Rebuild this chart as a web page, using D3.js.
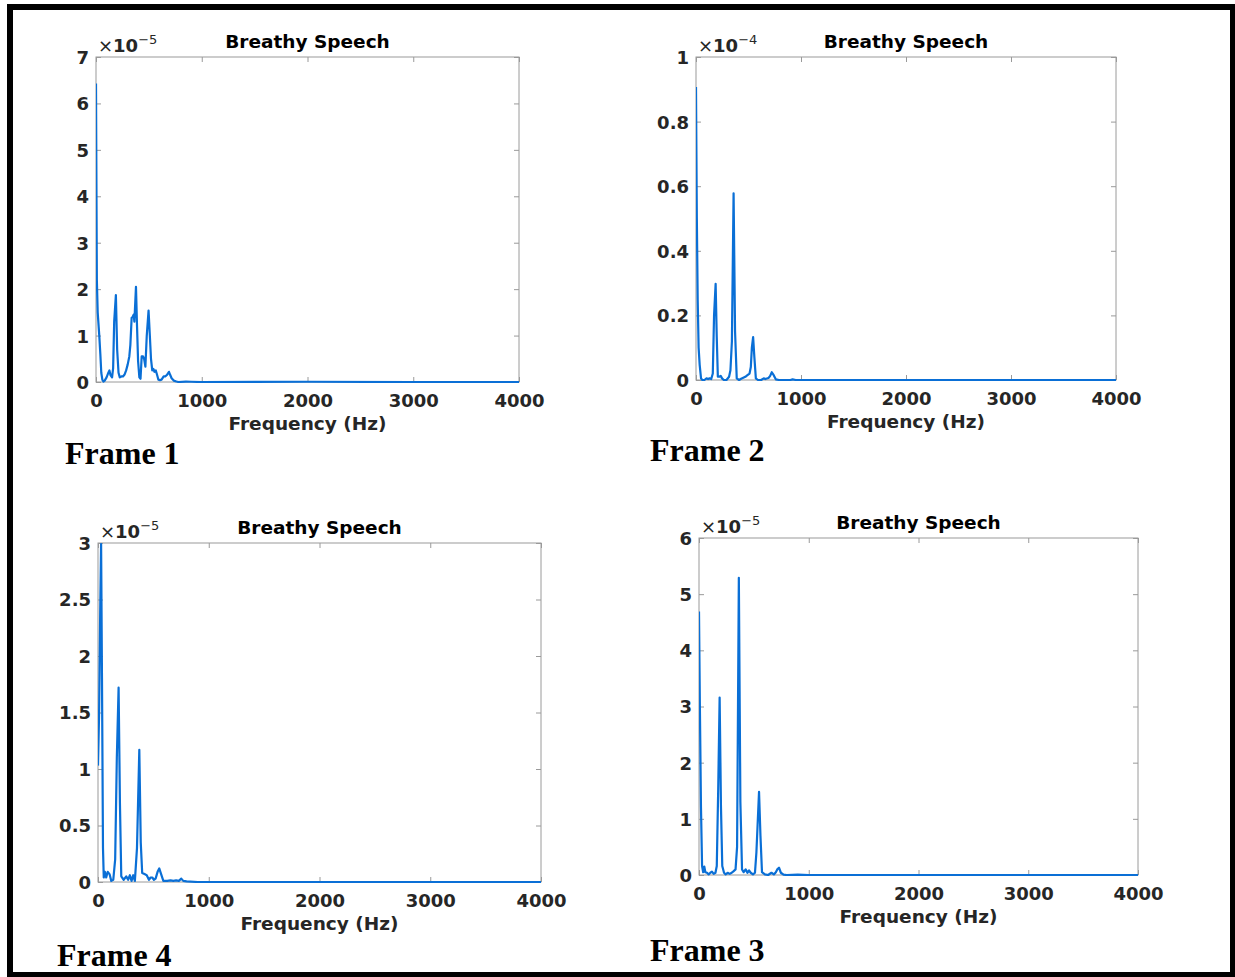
<!DOCTYPE html>
<html>
<head>
<meta charset="utf-8">
<script src="https://cdn.jsdelivr.net/npm/d3@7"></script>
<style>
  html, body { margin: 0; padding: 0; background: #fff; }
  svg { display: block; }
</style>
</head>
<body>
<svg id="fig" width="1235" height="977"></svg>
<script>
// ---- Spectrum data (frequency in Hz, magnitude in units of the axis exponent) ----
const frame1Freq = [0, 8, 16, 31, 41, 50, 60, 70, 82, 100, 117, 127, 137, 152, 162, 172, 188, 200, 213, 225, 240, 255, 270, 285, 300, 315, 325, 337, 347, 356, 363, 378, 388, 398, 410, 421, 432, 445, 455, 467, 480, 497, 508, 520, 532, 543, 553, 565, 578, 590, 605, 620, 640, 655, 670, 690, 702, 715, 735, 760, 780, 850, 900, 1000, 2000, 3000, 4000];
const frame1Mag  = [6.43, 2.2, 1.5, 1.0, 0.6, 0.2, 0.05, 0.01, 0.03, 0.1, 0.2, 0.25, 0.15, 0.1, 0.3, 1.3, 1.87, 0.7, 0.2, 0.1, 0.12, 0.12, 0.16, 0.25, 0.38, 0.55, 0.8, 1.38, 1.4, 1.45, 1.3, 2.05, 1.2, 0.45, 0.1, 0.07, 0.55, 0.55, 0.5, 0.33, 1.0, 1.54, 1.05, 0.5, 0.25, 0.28, 0.22, 0.25, 0.15, 0.05, 0.04, 0.05, 0.12, 0.12, 0.15, 0.22, 0.15, 0.08, 0.03, 0.01, 0, 0.01, 0.005, 0, 0.005, 0, 0];

const frame2Freq = [0, 8, 16, 25, 35, 48, 60, 80, 100, 115, 130, 145, 160, 172, 187, 197, 208, 222, 235, 248, 265, 290, 315, 328, 342, 358, 372, 388, 410, 430, 450, 470, 490, 510, 522, 532, 544, 556, 570, 590, 620, 645, 660, 690, 705, 722, 740, 760, 790, 900, 920, 950, 1000, 2000, 3000, 4000];
const frame2Mag  = [0.907, 0.5, 0.25, 0.1, 0.047, 0.005, 0, 0, 0.005, 0.003, 0.005, 0.003, 0.02, 0.2, 0.298, 0.14, 0.01, 0.01, 0.013, 0.005, 0, 0, 0.01, 0.03, 0.12, 0.578, 0.15, 0.005, 0, 0.004, 0.007, 0.01, 0.015, 0.02, 0.04, 0.1, 0.133, 0.07, 0.005, 0, 0, 0.005, 0.003, 0.006, 0.012, 0.024, 0.015, 0.002, 0, 0, 0.002, 0, 0, 0, 0, 0];

const frame4Freq = [0, 10, 20, 28, 36, 45, 52, 62, 74, 88, 104, 120, 138, 155, 170, 186, 198, 210, 232, 255, 272, 288, 303, 318, 333, 352, 373, 386, 399, 420, 440, 460, 475, 490, 505, 520, 538, 553, 570, 590, 625, 655, 680, 706, 730, 752, 770, 800, 900, 1000, 2000, 3000, 4000];
const frame4Mag  = [1.03, 1.5, 2.4, 2.99, 1.8, 0.3, 0.04, 0.09, 0.04, 0.09, 0.07, 0.01, 0.02, 0.2, 1.1, 1.72, 0.7, 0.05, 0.02, 0.05, 0.02, 0.06, 0.01, 0.06, 0.01, 0.3, 1.17, 0.35, 0.08, 0.07, 0.06, 0.02, 0.04, 0.04, 0.02, 0.03, 0.09, 0.12, 0.07, 0.01, 0.01, 0.015, 0.01, 0.015, 0.01, 0.03, 0.01, 0.005, 0, 0, 0, 0, 0];

const frame3Freq = [0, 8, 18, 28, 38, 48, 58, 73, 88, 103, 118, 134, 150, 162, 175, 188, 200, 212, 228, 243, 261, 280, 298, 316, 333, 347, 363, 377, 392, 407, 425, 441, 456, 471, 492, 510, 523, 547, 560, 574, 600, 630, 660, 682, 700, 713, 729, 746, 770, 800, 900, 1000, 2000, 3000, 4000];
const frame3Mag  = [4.69, 3.0, 1.2, 0.16, 0.05, 0.15, 0.05, 0.04, 0.01, 0.04, 0.06, 0.02, 0.04, 0.16, 1.53, 3.16, 1.23, 0.16, 0.04, 0.01, 0.04, 0.02, 0.04, 0.07, 0.1, 0.5, 5.29, 1.3, 0.1, 0.05, 0.1, 0.04, 0.08, 0.04, 0.01, 0.04, 0.4, 1.48, 0.7, 0.05, 0.01, 0, 0.04, 0.01, 0.05, 0.1, 0.13, 0.04, 0.005, 0, 0.005, 0, 0, 0, 0];

// ---- Axis tick values and labels ----
const xTicks = [0, 1000, 2000, 3000, 4000];
const yTicks1 = [0, 1, 2, 3, 4, 5, 6, 7];
const yTicks2 = [0, 0.2, 0.4, 0.6, 0.8, 1];
const yTicks4 = [0, 0.5, 1, 1.5, 2, 2.5, 3];
const yTicks3 = [0, 1, 2, 3, 4, 5, 6];
const titleText = "Breathy Speech";
const xLabelText = "Frequency (Hz)";

// ---- Panel layout ----
const panels = [
  { freq: frame1Freq, mag: frame1Mag, yTicks: yTicks1, yMax: 7, exp: "−5", name: "Frame 1",
    left: 96, right: 519, top: 57, bottom: 382, fx: 65, fy: 464 },
  { freq: frame2Freq, mag: frame2Mag, yTicks: yTicks2, yMax: 1, exp: "−4", name: "Frame 2",
    left: 696, right: 1116, top: 57, bottom: 380, fx: 650, fy: 461 },
  { freq: frame4Freq, mag: frame4Mag, yTicks: yTicks4, yMax: 3, exp: "−5", name: "Frame 4",
    left: 98, right: 541, top: 543, bottom: 882, fx: 57, fy: 966 },
  { freq: frame3Freq, mag: frame3Mag, yTicks: yTicks3, yMax: 6, exp: "−5", name: "Frame 3",
    left: 699, right: 1138, top: 538, bottom: 875, fx: 650, fy: 961 }
];

const FONT = "'DejaVu Sans', sans-serif";
const LABEL_COLOR = "#262626";
const BOX_COLOR = "#9a9a9a";
const LINE_COLOR = "#0a6fd6";
const TICK = 5;

const svg = d3.select("#fig");
svg.append("rect").attr("width", 1235).attr("height", 977).attr("fill", "#fff");

// outer frame
svg.append("rect")
  .attr("x", 10).attr("y", 7).attr("width", 1223).attr("height", 968)
  .attr("fill", "none").attr("stroke", "#000").attr("stroke-width", 6);

panels.forEach((p, i) => {
  const x = d3.scaleLinear().domain([0, 4000]).range([p.left, p.right]);
  const y = d3.scaleLinear().domain([0, p.yMax]).range([p.bottom, p.top]);
  const g = svg.append("g").attr("class", "panel-" + i);

  // clip for the spectrum line
  const clipId = "clip" + i;
  g.append("clipPath").attr("id", clipId)
    .append("rect").attr("x", p.left).attr("y", p.top - 1)
    .attr("width", p.right - p.left).attr("height", p.bottom - p.top + 2);

  // bottom axis (labels + inward ticks)
  const fmtY = d => d3.format("~g")(d);
  const xAxis = d3.axisBottom(x).tickValues(xTicks).tickSize(-TICK).tickPadding(12).tickFormat(d3.format("d"));
  const gx = g.append("g").attr("transform", `translate(0,${p.bottom})`).call(xAxis);
  // top ticks
  const gxt = g.append("g").attr("transform", `translate(0,${p.top})`)
    .call(d3.axisTop(x).tickValues(xTicks).tickSize(-TICK).tickFormat(""));
  // left axis
  const yAxis = d3.axisLeft(y).tickValues(p.yTicks).tickSize(-TICK).tickPadding(7).tickFormat(fmtY);
  const gy = g.append("g").attr("transform", `translate(${p.left},0)`).call(yAxis);
  // right ticks
  const gyr = g.append("g").attr("transform", `translate(${p.right},0)`)
    .call(d3.axisRight(y).tickValues(p.yTicks).tickSize(-TICK).tickFormat(""));

  [gx, gxt, gy, gyr].forEach(a => {
    a.select(".domain").remove();
    a.selectAll(".tick line").attr("stroke", BOX_COLOR).attr("stroke-width", 1);
    a.selectAll(".tick text")
      .attr("fill", LABEL_COLOR)
      .attr("font-family", FONT)
      .attr("font-weight", "bold")
      .attr("font-size", 18);
  });
  gy.selectAll(".tick text").attr("dy", "0.36em");
  gx.selectAll(".tick text").attr("dy", "0.71em");

  // axes box
  g.append("rect")
    .attr("x", p.left).attr("y", p.top)
    .attr("width", p.right - p.left).attr("height", p.bottom - p.top)
    .attr("fill", "none").attr("stroke", BOX_COLOR).attr("stroke-width", 1);

  // spectrum line
  const pts = p.freq.map((f, k) => [f, p.mag[k]]);
  const line = d3.line().x(d => x(d[0])).y(d => y(d[1]));
  g.append("path")
    .datum(pts)
    .attr("d", line)
    .attr("clip-path", `url(#${clipId})`)
    .attr("fill", "none")
    .attr("stroke", LINE_COLOR)
    .attr("stroke-width", 2.2)
    .attr("stroke-linejoin", "round");

  // exponent marker
  const ex = g.append("text")
    .attr("x", p.left + 2).attr("y", p.top - 5)
    .attr("font-family", FONT).attr("font-size", 18).attr("fill", LABEL_COLOR);
  ex.append("tspan").text("×");
  ex.append("tspan").attr("font-weight", "bold").text("10");
  ex.append("tspan").attr("font-size", 13).attr("dy", -8).text(p.exp);

  // title
  g.append("text")
    .attr("x", (p.left + p.right) / 2).attr("y", p.top - 9)
    .attr("text-anchor", "middle")
    .attr("font-family", FONT).attr("font-weight", "bold").attr("font-size", 18.5)
    .attr("fill", "#000")
    .text(titleText);

  // x axis label
  g.append("text")
    .attr("x", (p.left + p.right) / 2).attr("y", p.bottom + 48)
    .attr("text-anchor", "middle")
    .attr("font-family", FONT).attr("font-weight", "bold").attr("font-size", 18.5)
    .attr("fill", LABEL_COLOR)
    .text(xLabelText);

  // frame caption
  g.append("text")
    .attr("x", p.fx).attr("y", p.fy)
    .attr("font-family", "'Liberation Serif', 'Times New Roman', serif")
    .attr("font-weight", "bold").attr("font-size", 32)
    .attr("fill", "#000")
    .text(p.name);
});
</script>
</body>
</html>
